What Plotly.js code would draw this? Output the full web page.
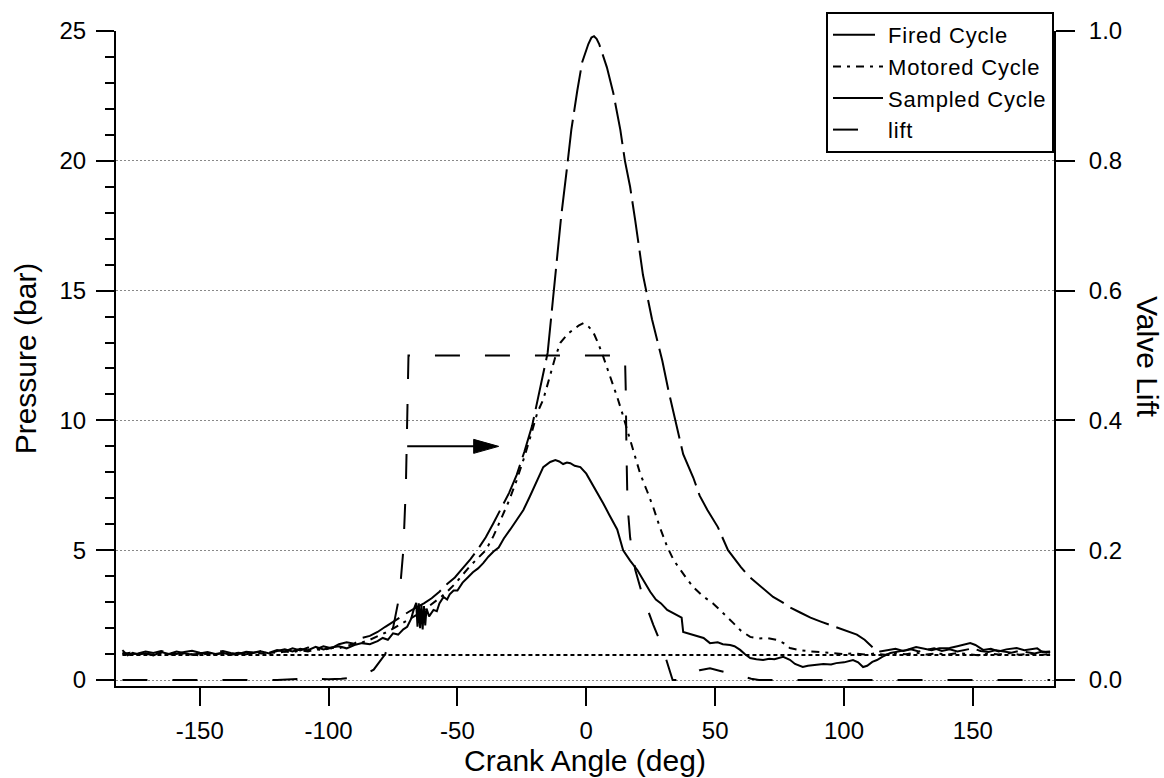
<!DOCTYPE html>
<html>
<head>
<meta charset="utf-8">
<script src="https://cdn.plot.ly/plotly-3.0.1.min.js"></script>
<style>html,body{margin:0;padding:0;background:#fff;}#chart{width:1164px;height:778px;}
.legendtext{letter-spacing:0.8px;}</style>
</head>
<body>
<div id="chart"></div>
<script>
// ---------- DATA ----------
var firedAngle = [-180,-177,-174,-171,-168,-165,-162,-159,-156,-153,-150,-147,-144,-141,-138,-135,-132,-129,-126,-123,-120,-117,-114,-111,-108,-105,-102,-99,-96,-93,-90,-87,-84,-81,-78,-75,-72,-69,-66,-63,-60,-57,-54,-51,-48,-45,-42,-39,-36,-33,-30,-27,-24,-21,-18,-15,-13,-11,-9.7,-7.4,-5.8,-3.5,-1.6,0.8,2,3,4,5,8,10.5,13.2,15,17,19,22,25.5,29.5,32,34.5,37.6,41.5,44,47,51,55,58,60,63,66,69,72.5,76,79,83,87,91,95.7,101,105,108,110,112,114,117,120,123,126,129,132,135,138,141,144,147,150,153,156,159,162,165,168,171,174,177,180];
var firedPressure = [1.05,0.98,1.02,1.10,1.04,1.12,1.06,1.00,1.08,1.13,1.05,1.00,1.07,1.12,1.04,1.00,1.09,1.06,1.12,1.05,1.15,1.10,1.22,1.14,1.25,1.18,1.30,1.22,1.38,1.45,1.40,1.62,1.70,1.85,2.05,2.25,2.45,2.62,2.80,2.95,3.15,3.40,3.70,3.95,4.30,4.65,5.05,5.50,6.05,6.65,7.20,7.90,8.80,9.80,11.2,12.6,14.6,16.6,17.9,19.8,21.2,22.7,23.8,24.5,24.75,24.8,24.7,24.5,23.6,22.6,21.2,20.0,19.0,17.7,15.6,13.9,12.3,11.1,10.0,8.7,7.8,7.1,6.55,5.9,5.0,4.6,4.35,4.0,3.75,3.5,3.2,3.0,2.8,2.6,2.4,2.25,2.08,1.9,1.75,1.55,1.35,1.18,1.10,1.15,1.20,1.12,1.18,1.10,1.16,1.22,1.12,1.18,1.10,1.15,1.22,1.12,1.08,1.15,1.10,1.05,1.12,1.08,1.02,1.10,1.05];

var motoredAngle = [-180,-177,-174,-171,-168,-165,-162,-159,-156,-153,-150,-147,-144,-141,-138,-135,-132,-129,-126,-123,-120,-117,-114,-111,-108,-105,-102,-99,-96,-93,-90,-87,-84,-81,-78,-75,-72,-69,-66,-63,-60,-57,-54,-51,-48,-45,-42,-39,-36,-33,-30,-27,-24,-21,-19,-16.7,-14,-12,-10,-7,-5,-3,-1.1,1,2.7,4.5,6.6,8.5,10.5,12,13.9,15.5,17,19.8,20.9,23.5,26,28.5,31.4,34,36.4,39,41.5,45,49.2,53,57,60,63.6,67,70,74,77,79,83,87,91,95.7,100,104,108,112,116,120,124,128,132,136,140,144,148,152,156,160,164,168,172,176,180];
var motoredPressure = [1.00,1.05,0.98,1.02,0.97,1.04,1.00,0.96,1.03,0.99,0.95,1.02,0.98,1.04,0.99,1.05,1.00,1.06,1.02,1.08,1.04,1.10,1.06,1.14,1.10,1.18,1.15,1.24,1.22,1.32,1.38,1.45,1.55,1.68,1.82,1.98,2.15,2.32,2.50,2.70,2.92,3.15,3.40,3.70,4.05,4.40,4.70,5.00,5.55,6.20,6.90,7.70,8.60,9.60,10.3,10.8,11.7,12.45,13.0,13.35,13.5,13.65,13.75,13.6,13.4,13.0,12.45,11.9,11.4,10.9,10.3,9.75,9.25,8.35,7.95,7.3,6.65,5.9,5.13,4.6,4.24,3.9,3.58,3.25,2.95,2.6,2.2,1.9,1.66,1.60,1.62,1.54,1.40,1.23,1.15,1.10,1.08,1.04,1.00,1.03,0.98,1.02,0.97,1.04,0.99,1.05,0.98,1.03,0.97,1.04,1.00,0.95,1.02,0.98,1.04,0.97,1.02,0.96,1.00];

var sampledAngle = [-180,-178,-176,-174,-171,-168,-165,-162,-159,-156,-153,-150,-147,-144,-141,-138,-135,-132,-129,-126,-123,-120,-117,-114,-111,-108,-105,-102,-99,-96,-93,-90,-87,-84,-81,-79,-77,-75,-73,-71,-69.5,-68,-67,-66,-65.5,-65,-64.5,-64,-63.5,-63,-62.5,-62,-61,-60,-59.3,-58,-57,-55.4,-54,-53,-51.5,-50,-48,-46,-44,-42,-40,-38,-36,-34,-32,-29.5,-27,-24.4,-22,-20,-18,-16.7,-14,-12,-10.5,-9,-7.5,-6.2,-4.5,-2.3,0,1.5,4,6.6,9,12,14.3,17,19.8,22,24.8,27,29,31.4,34,36.4,37,37.6,40,43,45.5,48,51,53,55.8,57.5,59.7,61.5,63.6,66,68.6,71,73,76.4,79,81,84,86,89.5,92,95,97,100,103.5,105.5,107.4,109,111,112.8,115,118,121,124,128,131,134,137,141,144,147,149,151,154,157,160,163,167,170,173,175,177,180];
var sampledPressure = [1.15,0.95,1.05,0.98,1.02,0.95,1.08,1.00,1.10,1.04,0.97,1.02,1.08,1.00,1.05,0.96,1.03,0.99,1.06,1.10,1.02,1.12,1.18,1.10,1.20,1.15,1.28,1.18,1.25,1.30,1.22,1.35,1.42,1.38,1.50,1.62,1.55,1.80,1.75,1.95,2.05,2.35,2.70,2.97,2.05,2.95,2.00,2.90,1.95,2.85,2.10,2.75,2.45,2.60,2.70,2.65,2.95,3.20,3.10,3.30,3.45,3.45,3.75,3.95,4.15,4.30,4.50,4.75,4.95,5.10,5.45,5.80,6.15,6.55,7.05,7.50,7.95,8.20,8.40,8.47,8.42,8.32,8.38,8.35,8.25,8.20,7.95,7.70,7.25,6.80,6.35,5.80,5.00,4.60,4.24,3.85,3.40,3.10,2.95,2.70,2.55,2.43,2.40,1.85,1.78,1.72,1.62,1.42,1.45,1.38,1.35,1.30,1.16,1.00,0.85,0.80,0.77,0.82,0.80,0.89,0.78,0.62,0.50,0.55,0.58,0.62,0.60,0.65,0.68,0.77,0.68,0.50,0.55,0.70,0.77,0.90,1.04,1.10,1.15,1.27,1.20,1.15,1.22,1.23,1.30,1.38,1.42,1.35,1.16,1.20,1.10,1.18,1.23,1.15,1.20,1.22,1.08,1.10];

var liftAngle = [-180,-150,-120,-110,-107,-104,-100,-95,-90,-86,-82.5,-78,-75,-72.5,-71,-70,-69.5,-69,15,15.3,15.6,16,17,19,22,26,29.5,32,33.5,36,38,41,44,48,52,56,60,64,67,120,180];
var liftValue = [0,0,0,0.002,0.005,0.002,0.001,0.002,0.004,0.008,0.016,0.04,0.08,0.13,0.2,0.3,0.42,0.5,0.5,0.45,0.35,0.27,0.22,0.17,0.128,0.085,0.051,0.02,0,0,0.003,0.008,0.015,0.018,0.014,0.01,0.005,0.002,0,0,0];

var refLineAngle = [-180,180];
var refLinePressure = [0.96,0.96];

var seriesNames = ['Fired Cycle','Motored Cycle','Sampled Cycle','lift'];
var xTickVals = [-150,-100,-50,0,50,100,150];
var xTickText = ['-150','-100','-50','0','50','100','150'];
var yTickVals = [0,5,10,15,20,25];
var y2TickVals = [0,0.2,0.4,0.6,0.8,1.0];
var y2Title = 'Valve Lift';

// arrow annotation (crank angle, pressure)
var arrowStart = -69.5, arrowTip = -34, arrowLevel = 9.0;

// ---------- CHART ----------
var FONT = 'Liberation Sans, Arial, Helvetica, sans-serif';
var traces = [
  {x: firedAngle, y: firedPressure, name: seriesNames[0], mode: 'lines',
   line: {color: 'black', width: 2, dash: '42px,8px'}},
  {x: motoredAngle, y: motoredPressure, name: seriesNames[1], mode: 'lines',
   line: {color: 'black', width: 2, dash: '8px,6px,3px,6px'}},
  {x: sampledAngle, y: sampledPressure, name: seriesNames[2], mode: 'lines',
   line: {color: 'black', width: 2}},
  {x: liftAngle, y: liftValue, name: seriesNames[3], mode: 'lines', yaxis: 'y2',
   line: {color: 'black', width: 2, dash: '25px,25px'}},
  {x: refLineAngle, y: refLinePressure, mode: 'lines', showlegend: false, hoverinfo: 'skip',
   line: {color: 'black', width: 2, dash: '4px,3px'}}
];

var layout = {
  width: 1164, height: 778,
  margin: {l: 116, r: 110, t: 31, b: 92},
  paper_bgcolor: 'white', plot_bgcolor: 'white',
  font: {family: FONT, color: 'black', size: 24},
  showlegend: true,
  legend: {x: 1, xanchor: 'right', y: 1.029, yanchor: 'top',
           bgcolor: 'white', bordercolor: 'black', borderwidth: 2,
           font: {family: FONT, size: 22, color: 'black'}, itemwidth: 50,
           tracegroupgap: 0},
  xaxis: {range: [-182.5, 181.5], tickvals: xTickVals, ticktext: xTickText, ticks: 'outside', ticklen: 18,
          tickwidth: 2, tickcolor: 'black', showline: true, linewidth: 2, linecolor: 'black',
          showgrid: false, zeroline: false, tickfont: {size: 24}, ticklabelstandoff: 4,
          title: {text: 'Crank Angle (deg)', font: {size: 30}, standoff: 2}},
  yaxis: {range: [-0.231, 25.001], tickvals: yTickVals, ticks: 'outside', ticklen: 18,
          tickwidth: 2, tickcolor: 'black', showline: true, linewidth: 2, linecolor: 'black',
          showgrid: true, gridcolor: '#888', gridwidth: 1, griddash: '2px,2px', zeroline: false,
          minor: {dtick: 1, ticks: 'outside', ticklen: 9, tickwidth: 2, tickcolor: 'black', showgrid: false},
          tickfont: {size: 24}, ticklabelstandoff: 5,
          title: {text: 'Pressure (bar)', font: {size: 30}, standoff: 14}},
  yaxis2: {overlaying: 'y', side: 'right', range: [-0.00924, 1.00004], tickvals: y2TickVals,
           tickformat: '.1f', ticks: 'outside', ticklen: 19, tickwidth: 2, tickcolor: 'black',
           showline: true, linewidth: 2, linecolor: 'black', showgrid: false, zeroline: false,
           tickfont: {size: 24}, ticklabelstandoff: 9},
  annotations: [
    {text: y2Title, xref: 'paper', yref: 'paper', x: 1.0991, y: 0.5023, xanchor: 'center', yanchor: 'middle',
     textangle: 90, showarrow: false, font: {family: FONT, size: 30, color: 'black'}}
  ],
  shapes: [
    {type: 'line', xref: 'x', yref: 'y', x0: arrowStart, x1: arrowTip - 6, y0: arrowLevel, y1: arrowLevel,
     line: {color: 'black', width: 2}},
    {type: 'path', xref: 'x', yref: 'y', xsizemode: 'pixel', ysizemode: 'pixel',
     xanchor: arrowTip, yanchor: arrowLevel, path: 'M-25,-7 L0,0 L-25,7 Z',
     fillcolor: 'black', line: {color: 'black', width: 1}}
  ]
};

Plotly.newPlot('chart', traces, layout, {displayModeBar: false, staticPlot: true});
</script>
</body>
</html>
